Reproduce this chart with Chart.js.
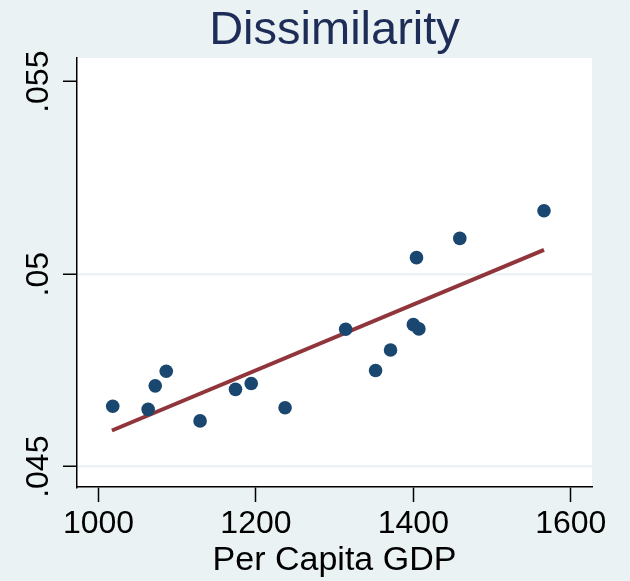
<!DOCTYPE html>
<html>
<head>
<meta charset="utf-8">
<script src="https://cdn.jsdelivr.net/npm/chart.js@4.4.1/dist/chart.umd.min.js"></script>
<style>
  html, body { margin: 0; padding: 0; background: #eaf2f3; }
  #wrap { width: 630px; height: 581px; }
</style>
</head>
<body>
<div id="wrap"><canvas id="scatterChart"></canvas></div>
<script>
// datos
const gdp = [1018, 1063, 1072, 1086, 1129, 1174, 1194, 1237, 1314, 1352, 1371, 1400, 1407, 1404, 1459, 1566];
const dissimilarity = [0.04657, 0.04649, 0.04710, 0.04748, 0.04619, 0.04701, 0.04716, 0.04653, 0.04857, 0.04750, 0.04803, 0.04869, 0.04858, 0.05043, 0.05093, 0.05165];
const fitX = [1017, 1566];
const fitY = [0.04594, 0.05063];
const xTicks = [1000, 1200, 1400, 1600];
const yTicks = [0.045, 0.05, 0.055];
const yTickLabels = ['.045', '.05', '.055'];

const FONT = "Arial, 'Liberation Sans', sans-serif";

document.addEventListener('DOMContentLoaded', function() {
    const ctx = document.getElementById('scatterChart').getContext('2d');

    // fondo gris azulado y área blanca
    const backgroundPlugin = {
        id: 'stataBackground',
        beforeDraw(chart) {
            const c = chart.ctx;
            const a = chart.chartArea;
            c.save();
            c.fillStyle = '#eaf2f3';
            c.fillRect(0, 0, chart.width, chart.height);
            c.fillStyle = '#ffffff';
            c.fillRect(a.left, a.top, a.right - a.left, a.bottom - a.top);
            c.restore();
        }
    };

    // etiquetas verticales del eje Y
    const yLabelPlugin = {
        id: 'rotatedYLabels',
        afterDraw(chart) {
            const c = chart.ctx;
            const yScale = chart.scales.y;
            c.save();
            c.fillStyle = '#000';
            c.font = '32px ' + FONT;
            c.textAlign = 'center';
            c.textBaseline = 'middle';
            yTicks.forEach((v, i) => {
                const py = yScale.getPixelForValue(v);
                c.save();
                c.translate(39, py);
                c.rotate(-Math.PI / 2);
                c.fillText(yTickLabels[i], 0, 0);
                c.restore();
            });
            c.restore();
        }
    };

    new Chart(ctx, {
        type: 'scatter',
        data: {
            datasets: [{
                label: 'Dissimilarity',
                data: gdp.map((x, i) => ({ x: x, y: dissimilarity[i] })),
                backgroundColor: '#1a476f',
                borderColor: '#1a476f',
                pointRadius: 6.8,
                pointHoverRadius: 6.8,
                borderWidth: 0
            }, {
                label: 'Fitted values',
                type: 'line',
                data: fitX.map((x, i) => ({ x: x, y: fitY[i] })),
                borderColor: '#90353b',
                borderWidth: 4,
                pointRadius: 0,
                fill: false
            }]
        },
        options: {
            responsive: true,
            maintainAspectRatio: false,
            animation: false,
            layout: { padding: { left: 0, right: 38, top: 0, bottom: 0 } },
            plugins: {
                legend: { display: false },
                tooltip: { enabled: false },
                title: {
                    display: true,
                    text: 'Dissimilarity',
                    color: '#1e2d57',
                    fullSize: false,
                    font: { family: FONT, size: 47, weight: 'normal', lineHeight: 1.0 },
                    padding: { top: 8, bottom: 3 }
                }
            },
            scales: {
                x: {
                    type: 'linear',
                    min: 972.6,
                    max: 1627,
                    afterBuildTicks(scale) {
                        scale.ticks = xTicks.map(v => ({ value: v }));
                    },
                    afterFit(scale) { scale.height = 94; },
                    border: { display: true, color: '#000', width: 1.5 },
                    grid: {
                        drawOnChartArea: false,
                        drawTicks: true,
                        tickLength: 15,
                        tickColor: '#000',
                        tickWidth: 1.5
                    },
                    ticks: {
                        color: '#000',
                        padding: 3,
                        maxRotation: 0,
                        font: { family: FONT, size: 32 },
                        callback: v => String(v)
                    },
                    title: {
                        display: true,
                        text: 'Per Capita GDP',
                        color: '#000',
                        font: { family: FONT, size: 34 },
                        padding: { top: 0, bottom: 0 }
                    }
                },
                y: {
                    type: 'linear',
                    min: 0.044473,
                    max: 0.055616,
                    afterBuildTicks(scale) {
                        scale.ticks = yTicks.map(v => ({ value: v }));
                    },
                    afterFit(scale) { scale.width = 77; },
                    border: { display: true, color: '#000', width: 1.5 },
                    grid: {
                        drawOnChartArea: true,
                        drawTicks: true,
                        tickLength: 14,
                        tickColor: '#000',
                        tickWidth: 1.5,
                        lineWidth: 2.5,
                        color: c => (c.tick && c.tick.value > 0.054) ? 'rgba(0,0,0,0)' : '#eaf2f3'
                    },
                    ticks: { display: false }
                }
            }
        },
        plugins: [backgroundPlugin, yLabelPlugin]
    });
});
</script>
</body>
</html>
